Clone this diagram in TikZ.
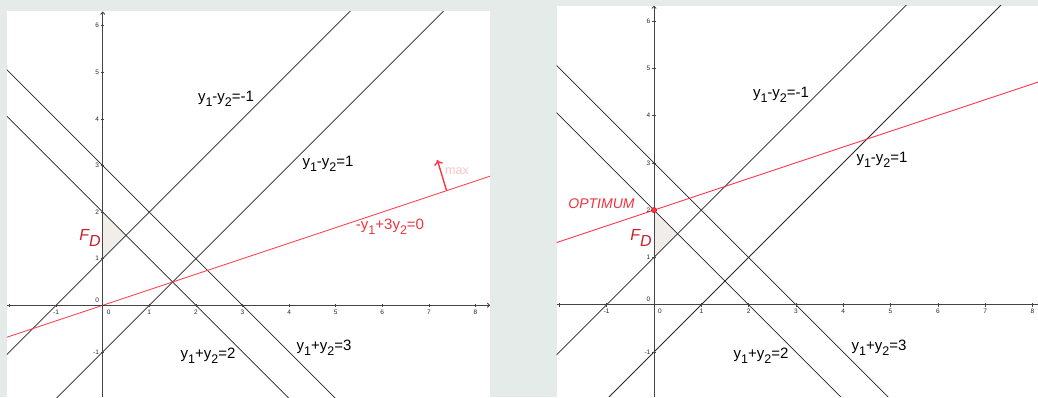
\documentclass[tikz,border=0pt]{standalone}
\usepackage{fontspec}
\setmainfont{Liberation Sans}
\usetikzlibrary{arrows.meta}
\definecolor{bgc}{HTML}{E4EBE8}
\definecolor{ggred}{HTML}{FF3344}
\definecolor{lblred}{HTML}{EE3340}
\definecolor{fdred}{HTML}{C8202C}
\definecolor{maxpink}{HTML}{F7C4C8}
\definecolor{fdfill}{HTML}{F1EDE8}
\definecolor{axisc}{HTML}{444444}
\newcommand{\mysub}[1]{\raisebox{-0.6ex}{\fontsize{12.5}{12}\selectfont #1}}
\tikzset{
  cline/.style={line width=0.75pt, black!85},
  rline/.style={line width=0.85pt, ggred},
  axisl/.style={line width=0.9pt, axisc},
  tickl/.style={line width=0.6pt, axisc},
  ticklbl/.style={font=\fontsize{6.5}{7}\selectfont, text=black!85, inner sep=0pt},
  eqlbl/.style={font=\fontsize{15}{16}\selectfont, inner sep=0pt},
  fdlbl/.style={font=\fontsize{16}{16}\selectfont\itshape, text=fdred, inner sep=0pt},
}
\begin{document}
\begin{tikzpicture}[x=1pt,y=1pt]
\useasboundingbox (0,0) rectangle (1038,-397);
\fill[bgc] (0,0) rectangle (1038,-397);
\fill[white] (7,-11) rectangle (490,-397);
\fill[white] (557,-5.7) rectangle (1038,-397);

% ---------------- left panel ----------------
\begin{scope}[shift={(102.7pt,-305.3pt)}, x=46.6pt, y=46.6pt]
  \clip (-2.054,-1.97) rectangle (8.312,6.315);
  \fill[fdfill] (0,1) -- (0,2) -- (0.5,1.5) -- cycle;
  \draw[cline] (-2.2,4.2) -- (8.5,-6.5);
  \draw[cline] (-2.2,5.2) -- (8.5,-5.5);
  \draw[cline] (-2.2,-1.2) -- (8.5,9.5);
  \draw[cline] (-2.2,-3.2) -- (8.5,7.5);
  \draw[rline] (-2.2,-0.7333) -- (8.5,2.8333);
  \draw[axisl,-{To[length=3pt,width=5pt]}] (-2.054,0) -- (8.31,0);
  \draw[axisl,-{To[length=3pt,width=5pt]}] (0,-1.97) -- (0,6.3);
  \foreach \i in {-2,...,8} \draw[tickl] (\i,1.5pt) -- (\i,-2pt);
  \foreach \j in {-1,...,6} \draw[tickl] (-2pt,\j) -- (1.5pt,\j);
  \foreach \i in {-1,1,2,...,8} \node[ticklbl, anchor=north] at (\i,-4.5pt) {\i};
  \node[ticklbl, anchor=north] at (6pt,-4.5pt) {0};
  \foreach \j in {-1,1,2,...,6} \node[ticklbl, anchor=east] at (-3.5pt,\j) {\j};
  \node[ticklbl, anchor=south east] at (-3.5pt,2.5pt) {0};
  \coordinate (mxA) at (7.38,2.46);
  \coordinate (mxB) at (7.18,3.12);
  \draw[ggred, line width=1.4pt, -{To[length=5pt,width=9pt]}] (mxA) -- (mxB);
\end{scope}
\node[eqlbl] (lA1) at (226,-99) {y\mysub{1}-y\mysub{2}=-1};
\node[eqlbl] (lA2) at (328,-164) {y\mysub{1}-y\mysub{2}=1};
\node[eqlbl, text=lblred] (lA3) at (390,-227) {-y\mysub{1}+3y\mysub{2}=0};
\node[eqlbl] (lA4) at (208,-356) {y\mysub{1}+y\mysub{2}=2};
\node[eqlbl] (lA5) at (324,-348) {y\mysub{1}+y\mysub{2}=3};
\node[fdlbl] (lA6) at (90,-238) {F\raisebox{-0.6ex}{D}};
\node[font=\fontsize{12.5}{12}\selectfont, text=maxpink, inner sep=0pt, anchor=west] (lA7) at (445,-171) {max};

% ---------------- right panel ----------------
\begin{scope}[shift={(654pt,-304.7pt)}, x=47.3pt, y=47.3pt]
  \clip (-2.057,-1.951) rectangle (8.118,6.334);
  \fill[fdfill] (0,1) -- (0,2) -- (0.5,1.5) -- cycle;
  \draw[cline] (-2.2,4.2) -- (8.5,-6.5);
  \draw[cline] (-2.2,5.2) -- (8.5,-5.5);
  \draw[cline] (-2.2,-1.2) -- (8.5,9.5);
  \draw[cline] (-2.2,-3.2) -- (8.5,7.5);
  \draw[rline] (-2.2,1.2667) -- (8.5,4.8333);
  \draw[axisl] (-2.057,0) -- (8.118,0);
  \draw[axisl,-{To[length=3pt,width=5pt]}] (0,-1.951) -- (0,6.32);
  \foreach \i in {-2,...,8} \draw[tickl] (\i,1.5pt) -- (\i,-2pt);
  \foreach \j in {-1,...,6} \draw[tickl] (-2pt,\j) -- (1.5pt,\j);
  \foreach \i in {-1,1,2,...,8} \node[ticklbl, anchor=north] at (\i,-4.5pt) {\i};
  \node[ticklbl, anchor=north] at (6pt,-4.5pt) {0};
  \foreach \j in {-1,1,2,...,6} \node[ticklbl, anchor=east] at (-3.5pt,\j) {\j};
  \node[ticklbl, anchor=south east] at (-3.5pt,2.5pt) {0};
  \coordinate (opt) at (0,2);
  \fill[ggred, draw=fdred, line width=0.6pt] (opt) circle (2.6pt);
\end{scope}
\node[eqlbl, font=\fontsize{14}{16}\selectfont\itshape, text=lblred] (lB0) at (601.5,-204) {OPTIMUM};
\node[fdlbl] (lB6) at (641,-238) {F\raisebox{-0.6ex}{D}};
\node[eqlbl] (lB1) at (781,-95) {y\mysub{1}-y\mysub{2}=-1};
\node[eqlbl] (lB2) at (882,-160) {y\mysub{1}-y\mysub{2}=1};
\node[eqlbl] (lB4) at (761,-356) {y\mysub{1}+y\mysub{2}=2};
\node[eqlbl] (lB5) at (879,-348) {y\mysub{1}+y\mysub{2}=3};
\end{tikzpicture}
\end{document}
